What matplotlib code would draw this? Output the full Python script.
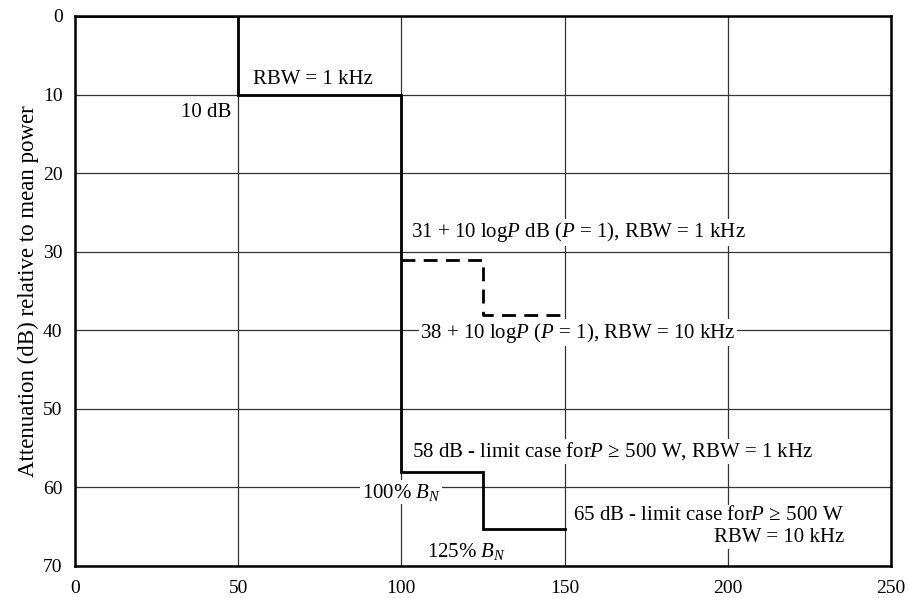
import matplotlib
matplotlib.use("Agg")
import matplotlib.pyplot as plt

# 数据：阶梯形掩模
solid_x = [0, 50, 50, 100, 100, 125, 125, 150]
solid_y = [0, 0, 10, 10, 58, 58, 65.3, 65.3]
dash_x = [100, 125, 125, 150]
dash_y = [31, 31, 38, 38]

x_ticks = [0, 50, 100, 150, 200, 250]
y_ticks = [0, 10, 20, 30, 40, 50, 60, 70]

plt.rcParams['font.family'] = ['Liberation Serif', 'DejaVu Serif']
plt.rcParams['mathtext.fontset'] = 'custom'
plt.rcParams['mathtext.rm'] = 'Liberation Serif'
plt.rcParams['mathtext.it'] = 'Liberation Serif:italic'

fig = plt.figure(figsize=(9.08, 5.98), dpi=100)
ax = fig.add_axes([75 / 908, 1 - 566 / 598, 816 / 908, 550 / 598])

ax.plot(solid_x, solid_y, color='black', lw=2.0, zorder=3, solid_joinstyle='miter')
ax.plot(dash_x, dash_y, color='black', lw=2.0, ls=(0, (5, 3)), zorder=3)

ax.set_xlim(0, 250)
ax.set_ylim(70, 0)
ax.set_xticks(x_ticks)
ax.set_yticks(y_ticks)
ax.grid(True, color='#333333', lw=0.9)
ax.tick_params(length=0, labelsize=14)
ax.tick_params(axis='y', pad=9)
ax.tick_params(axis='x', pad=10)
for s in ax.spines.values():
    s.set_linewidth(1.8)

ax.set_ylabel('Attenuation (dB) relative to mean power', fontsize=16.5, labelpad=3)

box = dict(facecolor='white', edgecolor='none', pad=1)
fs = 15
ax.text(54.5, 8.1, 'RBW = 1 kHz', fontsize=fs, va='center', ha='left', zorder=4)
ax.text(48, 12.3, '10 dB', fontsize=fs, va='center', ha='right', bbox=box, zorder=4)
ax.text(102.9, 27.5, r'31 + 10 log$P$ dB ($P$ = 1), RBW = 1 kHz', fontsize=fs,
        va='center', ha='left', bbox=box, zorder=4)
ax.text(105.7, 40.3, r'38 + 10 log$P$ ($P$ = 1), RBW = 10 kHz', fontsize=fs,
        va='center', ha='left', bbox=box, zorder=4)
ax.text(103.2, 55.4, r'58 dB - limit case for$P$ ≥ 500 W, RBW = 1 kHz', fontsize=fs,
        va='center', ha='left', bbox=box, zorder=4)
ax.text(100, 60.6, r'100% $B_N$', fontsize=fs, va='center', ha='center', bbox=box, zorder=4)
ax.text(120, 68.2, r'125% $B_N$', fontsize=fs, va='center', ha='center', bbox=box, zorder=4)
ax.text(152.6, 65.0, '65 dB - limit case for$P$ ≥ 500 W\nRBW = 10 kHz', fontsize=fs,
        va='center', ha='left', multialignment='right', linespacing=1.2,
        bbox=box, zorder=4)

fig.savefig('out.png', dpi=100)
